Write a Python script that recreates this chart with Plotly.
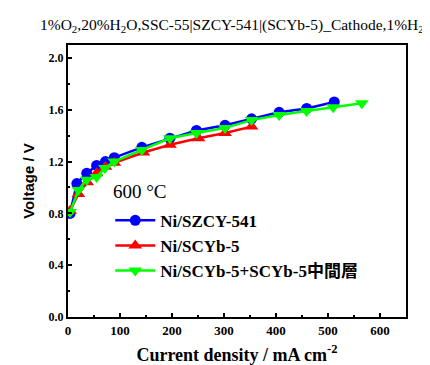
import plotly.graph_objects as go

x_szcy = [4, 17, 36, 55, 72, 89, 142, 196, 247, 302, 353, 406, 459, 512]
y_szcy = [0.80, 1.03, 1.11, 1.17, 1.20, 1.23, 1.31, 1.38, 1.44, 1.48, 1.53, 1.58, 1.61, 1.66]

x_scyb = [4, 20, 37, 55, 72, 89, 145, 196, 251, 302, 353]
y_scyb = [0.82, 0.95, 1.04, 1.11, 1.16, 1.19, 1.27, 1.33, 1.38, 1.42, 1.47]

x_inter = [4, 20, 36, 55, 71, 89, 142, 196, 247, 302, 353, 406, 459, 510, 565]
y_inter = [0.81, 0.98, 1.06, 1.08, 1.15, 1.20, 1.29, 1.38, 1.42, 1.46, 1.52, 1.56, 1.59, 1.62, 1.65]

names = ["Ni/SZCY-541", "Ni/SCYb-5", "Ni/SCYb-5+SCYb-5中間層"]
title_text = "1%O<sub>2</sub>,20%H<sub>2</sub>O,SSC-55|SZCY-541|(SCYb-5)_Cathode,1%H<sub>2</sub>"

serif = "Liberation Serif"
cjk = "Liberation Serif, Noto Sans CJK TC"

fig = go.Figure()
fig.add_trace(go.Scatter(x=x_szcy, y=y_szcy, name=names[0], mode="lines+markers",
                         line=dict(color="#0000FF", width=2.5),
                         marker=dict(symbol="circle", size=11, color="#0000FF")))
fig.add_trace(go.Scatter(x=x_scyb, y=y_scyb, name=names[1], mode="lines+markers",
                         line=dict(color="#FF0000", width=2.5),
                         marker=dict(symbol="triangle-up", size=12, color="#FF0000")))
fig.add_trace(go.Scatter(x=x_inter, y=y_inter, name=names[2], mode="lines+markers",
                         line=dict(color="#00FF00", width=2.5),
                         marker=dict(symbol="triangle-down", size=12, color="#00FF00")))

fig.update_layout(
    width=422, height=357,
    margin=dict(l=60, r=24, t=37, b=48),
    paper_bgcolor="white", plot_bgcolor="white",
    showlegend=True,
    legend=dict(x=0.125, y=0.42, xanchor="left", yanchor="top",
                bgcolor="rgba(0,0,0,0)", tracegroupgap=0,
                font=dict(family=cjk, size=17, color="black", weight="bold"),
                itemwidth=40),
    font=dict(family=serif, color="black"),
)
fig.add_annotation(text=title_text, xref="paper", yref="paper", x=0.485, y=1.0,
                   yshift=8, showarrow=False, xanchor="center", yanchor="bottom",
                   font=dict(family=serif, size=15.5, color="black"))
fig.add_annotation(text="600 °C", xref="x", yref="y", x=82, y=0.97,
                   showarrow=False, xanchor="left", yanchor="middle",
                   font=dict(family=serif, size=19, color="black"))

fig.update_xaxes(range=[0, 650], dtick=100, tick0=0, showgrid=False, zeroline=False,
                 showline=True, linecolor="black", linewidth=2, mirror=True,
                 ticks="inside", ticklen=4, tickwidth=1.5, tickcolor="black",
                 minor=dict(dtick=50, ticks="inside", ticklen=2, tickcolor="black"),
                 tickfont=dict(family=serif, size=13, color="black", weight="bold"),
                 automargin=False,
                 title=dict(text="Current density / mA cm<sup>-2</sup>", standoff=12,
                            font=dict(family=serif, size=18, color="black", weight="bold")))
fig.update_yaxes(range=[0, 2.1], dtick=0.4, tick0=0, tickformat=".1f", showgrid=False, zeroline=False,
                 showline=True, linecolor="black", linewidth=2, mirror=True,
                 ticks="inside", ticklen=4, tickwidth=1.5, tickcolor="black",
                 minor=dict(dtick=0.2, ticks="inside", ticklen=2, tickcolor="black"),
                 tickfont=dict(family=serif, size=12, color="black", weight="bold"),
                 automargin=False,
                 title=dict(text="Voltage / V", standoff=10,
                            font=dict(family="Liberation Sans", size=15, color="black", weight="bold")))

fig.write_html("out.html")
